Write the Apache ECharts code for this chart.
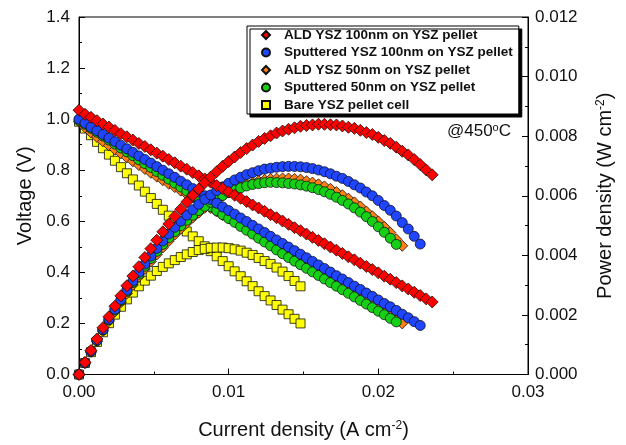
<!DOCTYPE html>
<html>
<head>
<meta charset="utf-8">
<script src="https://cdn.jsdelivr.net/npm/echarts@6/dist/echarts.min.js"></script>
<style>
  html, body { margin: 0; padding: 0; background: #fff; }
  #chart { width: 626px; height: 445px; }
</style>
</head>
<body>
<div id="chart"></div>
<script>
// Current density (A cm^-2), shared sweep steps for all cells
const current = [0,0.0004,0.0008,0.0012,0.0016,0.0020,0.0024,0.0028,0.0032,0.0036,
  0.0040,0.0044,0.0048,0.0052,0.0056,0.0060,0.0064,0.0068,0.0072,0.0076,
  0.0080,0.0084,0.0088,0.0092,0.0096,0.0100,0.0104,0.0108,0.0112,0.0116,
  0.0120,0.0124,0.0128,0.0132,0.0136,0.0140,0.0144,0.0148,0.0152,0.0156,
  0.0160,0.0164,0.0168,0.0172,0.0176,0.0180,0.0184,0.0188,0.0192,0.0196,
  0.0200,0.0204,0.0208,0.0212,0.0216,0.0220,0.0224,0.0228,0.0232,0.0236];

// ALD YSZ 100nm on YSZ pellet
const aldYsz100V = [1.035,1.019,1.007,0.994,0.981,0.969,0.956,0.943,0.931,0.918,
  0.905,0.893,0.880,0.867,0.855,0.842,0.829,0.816,0.804,0.791,
  0.778,0.766,0.753,0.740,0.728,0.715,0.702,0.690,0.677,0.664,
  0.652,0.639,0.626,0.614,0.601,0.588,0.575,0.563,0.550,0.537,
  0.525,0.512,0.499,0.487,0.474,0.461,0.449,0.436,0.423,0.411,
  0.398,0.385,0.373,0.360,0.347,0.335,0.322,0.309,0.296,0.284];
const aldYsz100P = [0,0.000408,0.000806,0.001193,0.001570,0.001938,0.002294,0.002640,0.002979,0.003305,
  0.003620,0.003929,0.004224,0.004508,0.004788,0.005052,0.005306,0.005549,0.005789,0.006012,
  0.006224,0.006434,0.006626,0.006808,0.006989,0.007150,0.007301,0.007452,0.007582,0.007702,
  0.007824,0.007924,0.008013,0.008105,0.008174,0.008232,0.008280,0.008332,0.008360,0.008377,
  0.008400,0.008397,0.008383,0.008376,0.008342,0.008298,0.008262,0.008197,0.008122,0.008056,
  0.007960,0.007854,0.007758,0.007632,0.007495,0.007370,0.007213,0.007045,0.006867,0.006702];

// Sputtered YSZ 100nm on YSZ pellet
const sputYsz100V = [1.000,0.984,0.969,0.955,0.940,0.926,0.912,0.898,0.884,0.870,
  0.856,0.842,0.828,0.814,0.800,0.786,0.772,0.757,0.743,0.728,
  0.714,0.700,0.685,0.671,0.656,0.642,0.628,0.613,0.599,0.584,
  0.570,0.556,0.541,0.527,0.513,0.499,0.485,0.471,0.457,0.443,
  0.429,0.415,0.401,0.387,0.374,0.360,0.346,0.333,0.319,0.306,
  0.292,0.278,0.265,0.251,0.236,0.222,0.207,0.192];
const sputYsz100P = [0,0.000394,0.000775,0.001146,0.001504,0.001852,0.002189,0.002514,0.002829,0.003132,
  0.003424,0.003705,0.003974,0.004233,0.004480,0.004716,0.004941,0.005148,0.005350,0.005533,
  0.005712,0.005880,0.006028,0.006173,0.006298,0.006420,0.006531,0.006620,0.006709,0.006774,
  0.006840,0.006894,0.006925,0.006956,0.006977,0.006986,0.006984,0.006971,0.006946,0.006911,
  0.006864,0.006806,0.006737,0.006656,0.006582,0.006480,0.006366,0.006260,0.006125,0.005998,
  0.005840,0.005671,0.005512,0.005321,0.005098,0.004884,0.004637,0.004378];

// ALD YSZ 50nm on YSZ pellet
const aldYsz50V = [0.990,0.968,0.948,0.930,0.913,0.897,0.881,0.866,0.850,0.835,
  0.820,0.805,0.790,0.775,0.761,0.747,0.734,0.720,0.706,0.693,
  0.679,0.666,0.652,0.638,0.624,0.611,0.598,0.584,0.569,0.555,
  0.541,0.527,0.513,0.498,0.484,0.470,0.456,0.442,0.427,0.413,
  0.399,0.385,0.371,0.356,0.342,0.328,0.314,0.300,0.285,0.271,
  0.257,0.243,0.229,0.214,0.200];
const aldYsz50P = [0,0.000387,0.000758,0.001116,0.001461,0.001794,0.002114,0.002425,0.002720,0.003006,
  0.003280,0.003542,0.003792,0.004030,0.004262,0.004482,0.004698,0.004896,0.005083,0.005267,
  0.005432,0.005594,0.005738,0.005870,0.005990,0.006110,0.006219,0.006307,0.006373,0.006438,
  0.006492,0.006535,0.006566,0.006574,0.006582,0.006580,0.006566,0.006542,0.006490,0.006443,
  0.006384,0.006314,0.006233,0.006123,0.006019,0.005904,0.005778,0.005640,0.005472,0.005312,
  0.005140,0.004957,0.004763,0.004537,0.004320];

// Sputtered 50nm on YSZ pellet
const sput50V = [0.995,0.980,0.964,0.949,0.934,0.918,0.903,0.887,0.872,0.857,
  0.841,0.826,0.811,0.795,0.780,0.765,0.749,0.734,0.719,0.703,
  0.688,0.672,0.657,0.642,0.626,0.611,0.596,0.580,0.565,0.550,
  0.534,0.519,0.504,0.488,0.473,0.458,0.444,0.430,0.416,0.402,
  0.388,0.374,0.360,0.346,0.332,0.318,0.304,0.290,0.276,0.262,
  0.248,0.234,0.220,0.206];
const sput50P = [0,0.000392,0.000771,0.001139,0.001494,0.001836,0.002167,0.002484,0.002790,0.003085,
  0.003364,0.003634,0.003893,0.004134,0.004368,0.004590,0.004794,0.004991,0.005177,0.005343,
  0.005504,0.005645,0.005782,0.005906,0.006010,0.006110,0.006198,0.006264,0.006328,0.006380,
  0.006408,0.006436,0.006451,0.006442,0.006433,0.006412,0.006394,0.006364,0.006323,0.006271,
  0.006208,0.006134,0.006048,0.005951,0.005843,0.005724,0.005594,0.005452,0.005299,0.005135,
  0.004960,0.004774,0.004576,0.004367];

// Bare YSZ pellet cell
const bareV = [0.990,0.963,0.937,0.911,0.886,0.861,0.837,0.812,0.788,0.764,
  0.740,0.716,0.691,0.668,0.645,0.622,0.600,0.580,0.560,0.541,
  0.522,0.502,0.483,0.463,0.444,0.424,0.404,0.385,0.365,0.346,
  0.326,0.307,0.290,0.272,0.254,0.236,0.218,0.200];
const bareP = [0,0.000385,0.000750,0.001093,0.001418,0.001722,0.002009,0.002274,0.002522,0.002750,
  0.002960,0.003150,0.003317,0.003474,0.003612,0.003732,0.003840,0.003944,0.004032,0.004112,
  0.004176,0.004217,0.004250,0.004260,0.004262,0.004240,0.004202,0.004158,0.004088,0.004014,
  0.003912,0.003807,0.003712,0.003590,0.003454,0.003304,0.003139,0.002960];

// Axis tick values
const xTicks = [0, 0.01, 0.02, 0.03];
const vTicks = [0, 0.2, 0.4, 0.6, 0.8, 1.0, 1.2, 1.4];
const pTicks = [0, 0.002, 0.004, 0.006, 0.008, 0.010, 0.012];

const cells = [
  { name: 'Bare YSZ pellet cell', v: bareV, p: bareP, color: '#ffff00', symbol: 'rect', size: 9 },
  { name: 'ALD YSZ 50nm on YSZ pellet', v: aldYsz50V, p: aldYsz50P, color: '#ff7f14', symbol: 'diamond', size: 11 },
  { name: 'Sputtered 50nm on YSZ pellet', v: sput50V, p: sput50P, color: '#16d016', symbol: 'circle', size: 10 },
  { name: 'Sputtered YSZ 100nm on YSZ pellet', v: sputYsz100V, p: sputYsz100P, color: '#1f45ff', symbol: 'circle', size: 10 },
  { name: 'ALD YSZ 100nm on YSZ pellet', v: aldYsz100V, p: aldYsz100P, color: '#ff0000', symbol: 'diamond', size: 12 }
];
const legendOrder = [
  'ALD YSZ 100nm on YSZ pellet',
  'Sputtered YSZ 100nm on YSZ pellet',
  'ALD YSZ 50nm on YSZ pellet',
  'Sputtered 50nm on YSZ pellet',
  'Bare YSZ pellet cell'
];

const FONT = 'Liberation Sans, Arial, sans-serif';
const pair = (ys) => ys.map((y, i) => [current[i], y]);

const series = [];
cells.forEach((c) => {
  const base = {
    type: 'scatter',
    name: c.name,
    symbol: c.symbol,
    symbolSize: c.size,
    itemStyle: { color: c.color, borderColor: '#111', borderWidth: 0.8, opacity: 1 },
    silent: true
  };
  series.push(Object.assign({}, base, { yAxisIndex: 0, data: pair(c.v) }));
  series.push(Object.assign({}, base, { yAxisIndex: 1, data: pair(c.p) }));
});

const axisCommon = {
  axisLine: { show: true, lineStyle: { color: '#000', width: 1 } },
  axisTick: { show: true, inside: true, length: 6, lineStyle: { color: '#000' } },
  minorTick: { show: true, splitNumber: 2, length: 3, lineStyle: { color: '#000' } },
  splitLine: { show: false },
  axisLabel: { color: '#111', fontFamily: FONT, fontSize: 17 }
};
const supRich = { sup: { fontSize: 12, fontFamily: FONT, color: '#111', padding: [0, 0, 9, 0] } };

const chart = echarts.init(document.getElementById('chart'), null, { renderer: 'canvas' });
chart.setOption({
  animation: false,
  backgroundColor: '#fff',
  grid: { left: 79, right: 98, top: 17, bottom: 69, show: true, borderColor: '#000', borderWidth: 1 },
  legend: {
    data: legendOrder,
    orient: 'vertical',
    left: 247,
    top: 26,
    padding: [2, 6, 2, 14],
    itemGap: 3.5,
    itemWidth: 8,
    itemHeight: 8,
    backgroundColor: '#fff',
    borderColor: '#000',
    borderWidth: 1,
    shadowColor: '#000',
    shadowBlur: 0,
    shadowOffsetX: 3,
    shadowOffsetY: 3,
    selectedMode: false,
    textStyle: { fontFamily: FONT, fontWeight: 'bold', fontSize: 13.5, lineHeight: 14, color: '#111', padding: [0, 0, 0, 9] }
  },
  xAxis: Object.assign({}, axisCommon, {
    type: 'value', min: xTicks[0], max: xTicks[xTicks.length - 1], interval: xTicks[1] - xTicks[0],
    axisLabel: Object.assign({}, axisCommon.axisLabel, { margin: 9, formatter: (v) => v.toFixed(2) }),
    name: 'Current density (A cm{sup|-2})', nameLocation: 'middle', nameGap: 45,
    nameTextStyle: { fontFamily: FONT, fontSize: 20, color: '#111', rich: supRich }
  }),
  yAxis: [
    Object.assign({}, axisCommon, {
      type: 'value', min: vTicks[0], max: vTicks[vTicks.length - 1], interval: vTicks[1] - vTicks[0],
      axisLabel: Object.assign({}, axisCommon.axisLabel, { margin: 9, formatter: (v) => v.toFixed(1) }),
      name: 'Voltage (V)', nameLocation: 'middle', nameGap: 42,
      nameTextStyle: { fontFamily: FONT, fontSize: 20, color: '#111' }
    }),
    Object.assign({}, axisCommon, {
      type: 'value', position: 'right', min: pTicks[0], max: pTicks[pTicks.length - 1], interval: pTicks[1] - pTicks[0],
      axisLabel: Object.assign({}, axisCommon.axisLabel, { margin: 7, formatter: (v) => v.toFixed(3) }),
      name: 'Power density (W cm{sup|-2})', nameLocation: 'middle', nameGap: 67, nameRotate: 90,
      nameTextStyle: { fontFamily: FONT, fontSize: 20, color: '#111', rich: supRich }
    })
  ],
  graphic: [{
    type: 'text',
    left: 447,
    top: 122,
    style: {
      text: '@450{sup|o}C',
      fontFamily: FONT,
      fontSize: 17,
      fill: '#111',
      rich: { sup: { fontSize: 11, fontFamily: FONT, fill: '#111', padding: [0, 0, 8, 0] } }
    }
  }],
  series: series
});
</script>
</body>
</html>
